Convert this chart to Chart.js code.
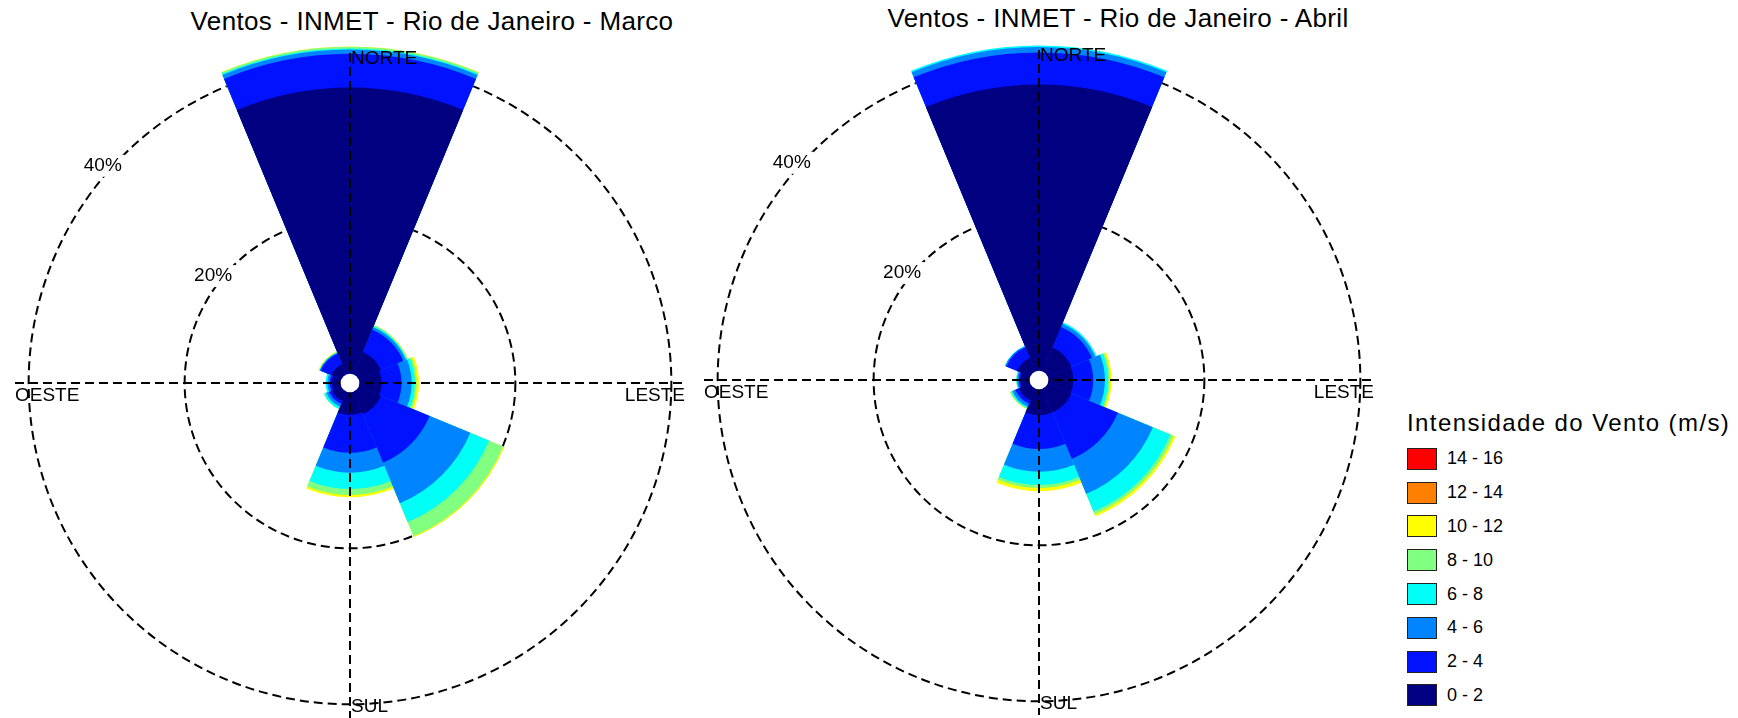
<!DOCTYPE html>
<html lang="pt-BR">
<head>
<meta charset="utf-8">
<title>Ventos - INMET - Rio de Janeiro</title>
<script src="https://cdn.jsdelivr.net/npm/chart.js@4.4.1/dist/chart.umd.min.js"></script>
<style>
  body { margin: 0; background: #fff; font-family: "Liberation Sans", Arial, sans-serif; color: #000; }
  #pagina { position: relative; width: 1738px; height: 718px; overflow: hidden; }
  .titulo { position: absolute; font-size: 26px; letter-spacing: 0.35px; white-space: nowrap; transform: translate(-50%, -50%); }
  canvas { position: absolute; top: 0; }
  #legenda { position: absolute; left: 1407px; top: 410px; }
  #legenda .tit { font-size: 24px; letter-spacing: 1.4px; height: 26px; line-height: 26px; white-space: nowrap; margin-bottom: 6px; }
  #legenda .item { display: flex; align-items: center; height: 33.8px; font-size: 18px; }
  #legenda .caixa { width: 30px; height: 22px; box-sizing: border-box; border: 1px solid #222; margin-right: 10px; }
</style>
</head>
<body>
<div id="pagina">
  <div class="titulo" style="left:432px; top:21px;">Ventos - INMET - Rio de Janeiro - Marco</div>
  <div class="titulo" style="left:1118px; top:18px;">Ventos - INMET - Rio de Janeiro - Abril</div>
  <canvas id="rosaMarco" width="700" height="718" style="left:0px;"></canvas>
  <canvas id="rosaAbril" width="700" height="718" style="left:690px;"></canvas>
  <div id="legenda"></div>
</div>
<script>
// DADOS (frequencia em % por direcao e faixa de velocidade)
const direcoes = ["N", "NE", "E", "SE", "S", "SW", "W", "NW"];
const faixas = ["0 - 2", "2 - 4", "4 - 6", "6 - 8", "8 - 10", "10 - 12", "12 - 14", "14 - 16"];
const coresFaixas = ["#000080", "#0012FF", "#0084FF", "#00FFF6", "#80FF80", "#FFFF00", "#FF8000", "#FF0000"];
const pontosCardeais = ["NORTE", "LESTE", "SUL", "OESTE"];
const aneis = [20, 40];

// Marco
const marco_0_2   = [36.7, 3.1, 2.85, 3.1, 2.9, 1.3, 1.1, 1.4];
const marco_2_4   = [4.3, 3.1, 2.55, 6.75, 4.85, 0.4, 0.3, 1.5];
const marco_4_6   = [0.55, 0.35, 1.3, 5.65, 2.55, 0.4, 0.3, 0.1];
const marco_6_8   = [0.15, 0.15, 0.4, 2.6, 2.1, 0.3, 0.25, 0.05];
const marco_8_10  = [0.2, 0.1, 0.25, 1.95, 0.75, 0.05, 0, 0.05];
const marco_10_12 = [0.05, 0.05, 0.3, 0.15, 0.3, 0, 0, 0.1];
const marco_12_14 = [0, 0, 0, 0, 0, 0, 0, 0];
const marco_14_16 = [0, 0, 0, 0, 0, 0, 0, 0];

// Abril
const abril_0_2   = [36.7, 3.3, 3.2, 3.3, 3.3, 1.6, 1.2, 1.85];
const abril_2_4   = [4.1, 2.85, 2.55, 6.45, 4.35, 0.5, 0.2, 1.5];
const abril_4_6   = [0.7, 0.45, 1.5, 4.85, 2.9, 0.4, 0.2, 0.15];
const abril_6_8   = [0.2, 0.2, 0.4, 2.45, 1.7, 0.2, 0.1, 0.05];
const abril_8_10  = [0, 0, 0.2, 0.4, 0.4, 0.1, 0.05, 0];
const abril_10_12 = [0, 0, 0.25, 0.3, 0.4, 0.05, 0, 0];
const abril_12_14 = [0, 0, 0, 0, 0, 0, 0, 0];
const abril_14_16 = [0, 0, 0, 0, 0, 0, 0, 0];

const marcoFaixas = [marco_0_2, marco_2_4, marco_4_6, marco_6_8, marco_8_10, marco_10_12, marco_12_14, marco_14_16];
const abrilFaixas = [abril_0_2, abril_2_4, abril_4_6, abril_6_8, abril_8_10, abril_10_12, abril_12_14, abril_14_16];

const TRACO = [9, 5];

// --- plugin: cruz tracejada, furo central e rotulos ---
const rosaPlugin = {
  id: "rosa",
  afterDraw(chart) {
    const r = chart.scales.r;
    const ctx = chart.ctx;
    const cx = r.xCenter, cy = r.yCenter, D = r.drawingArea;
    ctx.save();

    ctx.strokeStyle = "#000";
    ctx.lineWidth = 2;
    ctx.setLineDash(TRACO);
    ctx.beginPath();
    ctx.moveTo(cx - D, cy); ctx.lineTo(cx + D, cy);
    ctx.moveTo(cx, cy - D + 5); ctx.lineTo(cx, cy + D);
    ctx.stroke();
    ctx.setLineDash([]);

    // furo branco no centro
    ctx.fillStyle = "#fff";
    ctx.beginPath();
    ctx.arc(cx, cy, r.getDistanceFromCenterForValue(0), 0, 2 * Math.PI);
    ctx.fill();

    ctx.fillStyle = "#000";
    ctx.font = '19px "Liberation Sans", Arial, sans-serif';
    ctx.textBaseline = "middle";
    ctx.textAlign = "left";
    ctx.fillText(pontosCardeais[0], cx + 1, cy - D + 11);
    ctx.fillText(pontosCardeais[2], cx + 1, cy + D - 11);
    ctx.fillText(pontosCardeais[3], cx - D, cy + 13);
    ctx.textAlign = "right";
    ctx.fillText(pontosCardeais[1], cx + D, cy + 13);

    // rotulos dos aneis: ponto do anel a noroeste, deslocado
    ctx.textAlign = "center";
    const ang = (315 - 90) * Math.PI / 180;
    aneis.forEach(v => {
      const d = r.getDistanceFromCenterForValue(v);
      const x = cx + d * Math.cos(ang) - 20;
      const y = cy + d * Math.sin(ang) + 10;
      const txt = v + "%";
      const w = ctx.measureText(txt).width;
      ctx.fillStyle = "#fff";
      ctx.fillRect(x - w / 2 - 3, y - 11, w + 6, 22);
      ctx.fillStyle = "#000";
      ctx.fillText(txt, x, y);
    });
    ctx.restore();
  }
};

// valores acumulados por faixa (empilhamento radial)
function montarDatasets(valoresFaixas) {
  return faixas.map((faixa, j) => ({
    label: faixa,
    data: direcoes.map((_, i) => {
      if (valoresFaixas[j][i] <= 0) return 0;
      let soma = 0;
      for (let k = 0; k <= j; k++) soma += valoresFaixas[k][i];
      return soma;
    }),
    backgroundColor: coresFaixas[j],
    borderWidth: 0
  }));
}

function criarRosa(canvasId, valoresFaixas, padding) {
  return new Chart(document.getElementById(canvasId), {
    type: "polarArea",
    data: { labels: direcoes, datasets: montarDatasets(valoresFaixas) },
    options: {
      responsive: false,
      animation: false,
      layout: { padding: padding },
      plugins: { legend: { display: false }, tooltip: { enabled: false } },
      scales: {
        r: {
          min: -1.2,
          max: 41.75,
          startAngle: -22.5,
          ticks: { display: false, stepSize: 20, z: 1 },
          grid: {
            circular: true,
            lineWidth: 2,
            color: (c) => (c.tick && aneis.includes(c.tick.value)) ? "#000" : "rgba(0,0,0,0)"
          },
          border: { dash: TRACO },
          angleLines: { display: false },
          pointLabels: { display: false }
        }
      }
    },
    plugins: [rosaPlugin]
  });
}

const chart1 = criarRosa("rosaMarco", marcoFaixas, { left: 15, right: 15, top: 48, bottom: 0 });
const chart2 = criarRosa("rosaAbril", abrilFaixas, { left: 14, right: 16, top: 45, bottom: 3 });

// legenda
const legenda = document.getElementById("legenda");
legenda.innerHTML = `
  <div class="tit">Intensidade do Vento (m/s)</div>
  ${faixas.map((f, j) => ({ f, cor: coresFaixas[j] })).reverse().map(it => `
    <div class="item"><div class="caixa" style="background:${it.cor}"></div>${it.f}</div>`).join("")}
`;
</script>
</body>
</html>
